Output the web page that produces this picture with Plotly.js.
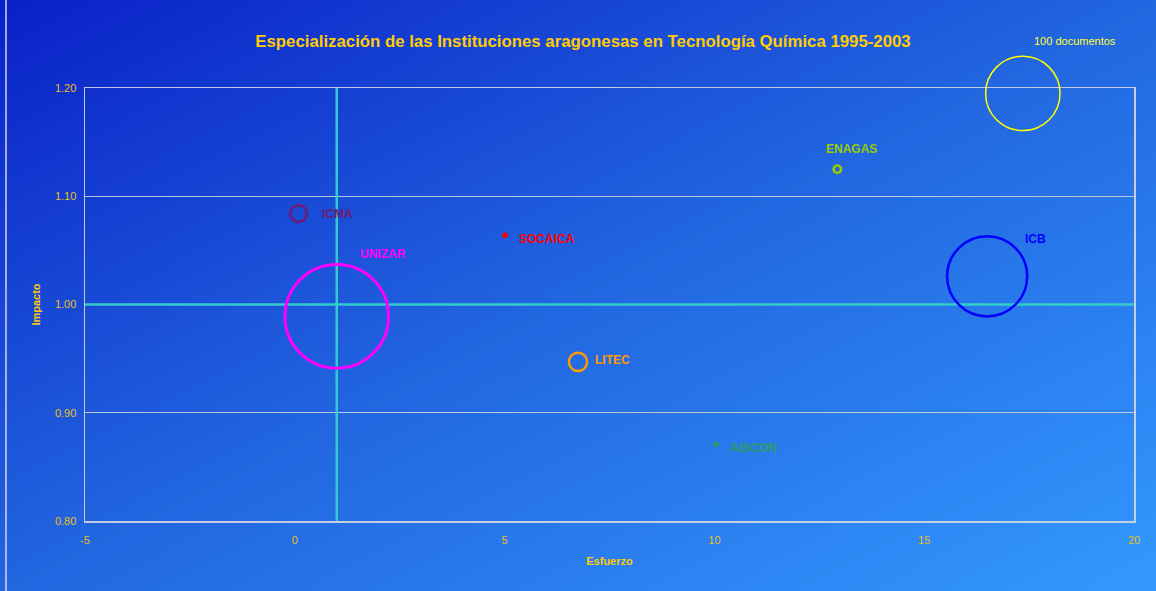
<!DOCTYPE html>
<html>
<head>
<meta charset="utf-8">
<script src="https://cdn.plot.ly/plotly-3.0.1.min.js"></script>
<style>
  html, body { margin: 0; padding: 0; width: 1156px; height: 591px; overflow: hidden; }
  #wrap { width: 1156px; height: 591px; background: linear-gradient(to bottom right, #0a20c8 0%, #2266e0 50%, #3399ff 100%); }
  #chart { width: 1156px; height: 591px; }
</style>
</head>
<body>
<div id="wrap"><div id="chart"></div></div>
<script>
// ---- data ----
const institutions = ["ICMA", "UNIZAR", "SOCAICA", "LITEC", "AISCON", "ENAGAS", "ICB"];
const esfuerzo     = [0.09, 1.00, 5.01, 6.75, 10.04, 12.93, 16.50];
const impacto      = [1.084, 0.989, 1.064, 0.947, 0.871, 1.125, 1.026];
const documentos   = [5, 194, 0.2, 6, 0.2, 1, 116];
const colors       = ["#701a70", "#ff00ff", "#ff0000", "#ff9900", "#339966", "#99cc00", "#0000ff"];
const legendDocs   = [100];
const legendLabel  = "100 documentos";
const legendPos    = {x: [17.35], y: [1.195]};
const refX = 1;   // reference line for esfuerzo
const refY = 1;   // reference line for impacto
const xRange = [-5, 20];
const yRange = [0.80, 1.20];
const yTicks = [0.80, 0.90, 1.00, 1.10, 1.20];
const xTicks = [-5, 0, 5, 10, 15, 20];

// label offsets (px) from bubble centre
const labelShift = {
  ICMA: [21, 0], UNIZAR: [21, 62], SOCAICA: [12, -4], LITEC: [15, 2],
  AISCON: [12, -4], ENAGAS: [-13, 20], ICB: [36, 37]
};

const sizeref = 0.03613;
const gold = "#ffcc00";
const cyan = "#33cccc";

const refLineV = {
  type: "scatter", mode: "lines", x: [refX, refX], y: yRange,
  line: { color: cyan, width: 2.5 }, hoverinfo: "skip", showlegend: false, cliponaxis: true
};
const refLineH = {
  type: "scatter", mode: "lines", x: xRange, y: [refY, refY],
  line: { color: cyan, width: 2.5 }, hoverinfo: "skip", showlegend: false, cliponaxis: true
};

const bubbles = {
  type: "scatter", mode: "markers",
  x: esfuerzo, y: impacto,
  cliponaxis: false,
  marker: {
    size: documentos, sizemode: "area", sizeref: sizeref, opacity: 1,
    color: colors.map(c => "rgba(0,0,0,0)"),
    line: { color: colors, width: [2.5, 3, 2, 2.5, 2, 2.5, 2.5] }
  },
  hoverinfo: "text", text: institutions, showlegend: false
};
const smallDots = {
  type: "scatter", mode: "markers",
  x: esfuerzo.filter((v, i) => documentos[i] < 0.5),
  y: impacto.filter((v, i) => documentos[i] < 0.5),
  marker: { size: 5, opacity: 1, color: colors.filter((v, i) => documentos[i] < 0.5), line: {width: 0} },
  hoverinfo: "skip", showlegend: false
};
const legendBubble = {
  type: "scatter", mode: "markers",
  x: legendPos.x, y: legendPos.y,
  cliponaxis: false,
  marker: { size: legendDocs, sizemode: "area", sizeref: sizeref, opacity: 1,
    color: "rgba(0,0,0,0)", line: { color: "#ffff00", width: 1.5 } },
  hoverinfo: "skip", showlegend: false
};

const annotations = institutions.map((name, i) => ({
  x: esfuerzo[i], y: impacto[i], xref: "x", yref: "y",
  text: "<b>" + name + "</b>", showarrow: false,
  xanchor: "left", yanchor: "middle",
  xshift: labelShift[name][0], yshift: labelShift[name][1],
  font: { family: "Liberation Sans, Arial, sans-serif", size: 12, color: colors[i] }
}));
annotations.push({
  x: (1075 - 85) / 1049, y: (521 - 41) / 433, xref: "paper", yref: "paper",
  text: legendLabel, showarrow: false, xanchor: "center", yanchor: "middle",
  font: { family: "Liberation Sans, Arial, sans-serif", size: 11, color: "#ffff33" }
});

const layout = {
  width: 1156, height: 591,
  margin: { l: 85, r: 22, t: 88, b: 70 },
  paper_bgcolor: "rgba(0,0,0,0)", plot_bgcolor: "rgba(0,0,0,0)",
  font: { family: "Liberation Sans, Arial, sans-serif", color: gold },
  title: {
    text: "<b>Especialización de las Instituciones aragonesas en Tecnología Química 1995-2003</b>",
    font: { size: 16.8, color: gold, family: "Liberation Sans, Arial, sans-serif" },
    xref: "container", yref: "container", x: 583 / 1156, y: 1 - 41 / 591,
    xanchor: "center", yanchor: "middle"
  },
  xaxis: {
    range: xRange, tickvals: xTicks, ticktext: xTicks.map(String),
    showgrid: false, zeroline: false,
    showline: true, mirror: true, linecolor: "rgba(215,215,225,0.9)", linewidth: 1.5,
    ticks: "", ticklabelstandoff: 8,
    tickfont: { size: 11, color: "#e8c020" },
    title: { text: "<b>Esfuerzo</b>", font: { size: 11, color: gold }, standoff: 12 },
    automargin: false
  },
  yaxis: {
    range: yRange, tickvals: yTicks, ticktext: yTicks.map(v => v.toFixed(2)),
    showgrid: true, gridcolor: "rgba(215,215,225,0.85)", gridwidth: 1,
    zeroline: false,
    showline: true, mirror: true, linecolor: "rgba(215,215,225,0.9)", linewidth: 1.5,
    ticks: "", ticklabelstandoff: 5,
    tickfont: { size: 11, color: "#e8c020" },
    title: { text: "<b>Impacto</b>", font: { size: 11, color: gold }, standoff: 12 },
    automargin: false
  },
  shapes: [
    { type: "line", xref: "paper", yref: "paper", x0: (6 - 85) / 1049, x1: (6 - 85) / 1049,
      y0: -1, y1: 2, line: { color: "rgba(230,230,240,0.9)", width: 1.5 } }
  ],
  annotations: annotations,
  showlegend: false
};

Plotly.newPlot("chart", [refLineV, refLineH, bubbles, smallDots, legendBubble], layout, { displayModeBar: false, staticPlot: true });
</script>
</body>
</html>
